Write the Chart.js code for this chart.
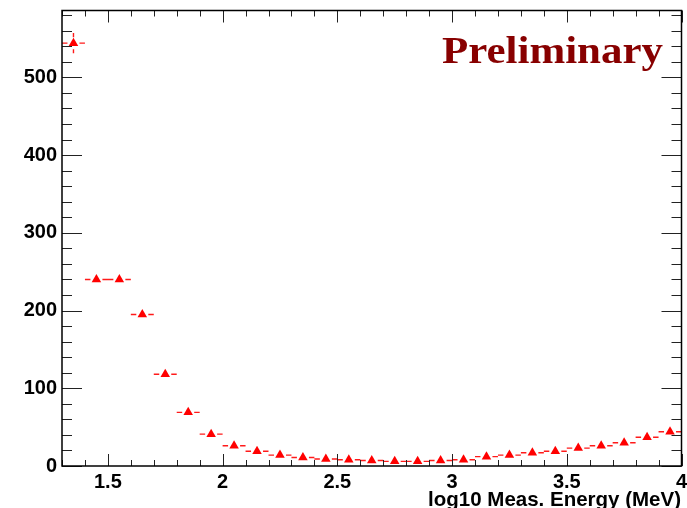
<!DOCTYPE html>
<html>
<head>
<meta charset="utf-8">
<script src="https://cdn.jsdelivr.net/npm/chart.js@4.4.1/dist/chart.umd.min.js"></script>
<style>
  html, body { margin: 0; padding: 0; background: #fff; }
  canvas { display: block; }
</style>
</head>
<body>
<canvas id="energyChart" width="687" height="508"></canvas>
<script>
// log10 energy bins (centers), 0.1 wide
const binCenters = [1.35, 1.45, 1.55, 1.65, 1.75, 1.85, 1.95, 2.05, 2.15, 2.25, 2.35, 2.45, 2.55, 2.65,
    2.75, 2.85, 2.95, 3.05, 3.15, 3.25, 3.35, 3.45, 3.55, 3.65, 3.75, 3.85, 3.95];
const binHalfWidth = 0.05;
const counts = [544, 240, 240, 195, 118, 69, 41, 26, 19, 14, 11, 9, 8, 7,
    6, 6, 7, 8, 12, 14, 17, 19, 23, 26, 30, 37, 44];
const countErrors = [13, 5, 5, 4, 4, 3, 2, 2, 2, 1, 1, 1, 1, 1,
    1, 1, 1, 1, 1, 1, 1, 1, 2, 2, 2, 2, 2];

const xTickLabels = [1.5, 2, 2.5, 3, 3.5, 4];
const yTickLabels = [0, 100, 200, 300, 400, 500];

const X_MIN = 1.3, X_MAX = 4.0;
const Y_MIN = 0, Y_MAX = 586;

const labelFont = { family: 'Liberation Sans', size: 20, weight: 'bold' };

// horizontal bin-width bars + vertical error bars, leaving a gap round the marker
const errorBars = {
    id: 'errorBars',
    beforeDatasetsDraw(chart) {
        const { ctx, scales: { x, y } } = chart;
        const gap = 6;
        ctx.save();
        ctx.strokeStyle = '#ff1a1a';
        ctx.lineWidth = 1.4;
        ctx.beginPath();
        binCenters.forEach((c, i) => {
            const px = x.getPixelForValue(c);
            const py = y.getPixelForValue(counts[i]);
            const x0 = x.getPixelForValue(c - binHalfWidth);
            const x1 = x.getPixelForValue(c + binHalfWidth);
            ctx.moveTo(x0, py); ctx.lineTo(px - gap, py);
            ctx.moveTo(px + gap, py); ctx.lineTo(x1, py);
            const yTop = y.getPixelForValue(counts[i] + countErrors[i]);
            const yBot = y.getPixelForValue(counts[i] - countErrors[i]);
            if (py - yTop > gap) {
                ctx.moveTo(px, yTop); ctx.lineTo(px, py - gap);
                ctx.moveTo(px, py + gap); ctx.lineTo(px, yBot);
            }
        });
        ctx.stroke();
        ctx.restore();
    }
};

// frame, inward ticks on all four sides, axis title and the overlay text
const frame = {
    id: 'frame',
    afterDraw(chart) {
        const { ctx, chartArea: a, scales: { x, y } } = chart;
        ctx.save();
        ctx.strokeStyle = '#222';
        ctx.lineWidth = 1;
        ctx.beginPath();
        for (let i = 0; i <= 27; i++) {
            const v = X_MIN + i * 0.1;
            const major = Math.abs(v * 2 - Math.round(v * 2)) < 1e-6;
            const len = major ? 12 : 6;
            const px = Math.round(x.getPixelForValue(v)) + 0.5;
            ctx.moveTo(px, a.bottom); ctx.lineTo(px, a.bottom - len);
            ctx.moveTo(px, a.top); ctx.lineTo(px, a.top + len);
        }
        for (let v = 0; v <= Y_MAX; v += 20) {
            const len = v % 100 === 0 ? 20 : 10;
            const py = Math.round(y.getPixelForValue(v)) + 0.5;
            ctx.moveTo(a.left, py); ctx.lineTo(a.left + len, py);
            ctx.moveTo(a.right, py); ctx.lineTo(a.right - len, py);
        }
        ctx.stroke();

        ctx.strokeStyle = '#000';
        ctx.lineWidth = 1.5;
        ctx.strokeRect(a.left, a.top, a.right - a.left, a.bottom - a.top);

        ctx.fillStyle = '#000';
        ctx.font = 'bold 20.5px "Liberation Sans"';
        ctx.textAlign = 'right';
        ctx.textBaseline = 'alphabetic';
        ctx.fillText('log10 Meas. Energy (MeV)', 681, 506);

        ctx.fillStyle = '#880000';
        ctx.font = 'bold 38px "Liberation Serif"';
        ctx.textAlign = 'left';
        const w = ctx.measureText('Preliminary').width;
        ctx.translate(442, 63);
        ctx.scale(221 / w, 1);
        ctx.fillText('Preliminary', 0, 0);
        ctx.restore();
    }
};

new Chart(document.getElementById('energyChart'), {
    type: 'scatter',
    data: {
        datasets: [{
            data: binCenters.map((c, i) => ({ x: c, y: counts[i] })),
            pointStyle: 'triangle',
            pointRadius: 5.5,
            pointBackgroundColor: '#ff0000',
            pointBorderWidth: 0,
            showLine: false
        }]
    },
    options: {
        responsive: false,
        animation: false,
        devicePixelRatio: 1,
        layout: { padding: { top: 10.5, right: 3.5, left: 0, bottom: 0 } },
        plugins: { legend: { display: false }, tooltip: { enabled: false } },
        scales: {
            x: {
                type: 'linear',
                min: X_MIN,
                max: X_MAX,
                grid: { display: false, drawTicks: false },
                border: { display: false },
                afterBuildTicks: s => { s.ticks = xTickLabels.map(v => ({ value: v })); },
                afterFit: s => { s.height = 42; s.paddingLeft = 0; s.paddingRight = 0; },
                ticks: {
                    font: labelFont,
                    color: '#000',
                    padding: 4,
                    maxRotation: 0,
                    autoSkip: false,
                    callback: v => String(v)
                }
            },
            y: {
                min: Y_MIN,
                max: Y_MAX,
                grid: { display: false, drawTicks: false },
                border: { display: false },
                afterBuildTicks: s => { s.ticks = yTickLabels.map(v => ({ value: v })); },
                afterFit: s => { s.width = 62; s.paddingTop = 0; s.paddingBottom = 0; },
                ticks: {
                    font: labelFont,
                    color: '#000',
                    padding: 5,
                    autoSkip: false,
                    callback: v => String(v)
                }
            }
        }
    },
    plugins: [errorBars, frame]
});
</script>
</body>
</html>
